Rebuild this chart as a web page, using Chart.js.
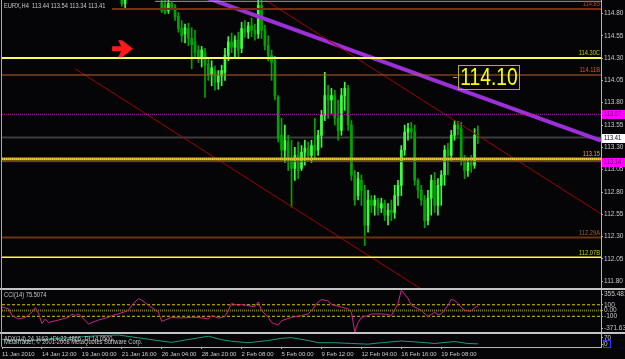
<!DOCTYPE html>
<html>
<head>
<meta charset="utf-8">
<script src="https://cdn.jsdelivr.net/npm/chart.js@4.4.1/dist/chart.umd.min.js"></script>
<style>
  body { margin: 0; background: #050508; width: 625px; height: 359px; overflow: hidden; position: relative; }
  canvas { position: absolute; left: 0; }
  #cMain { top: 0; }
  #cCci { top: 290px; }
  #cAdx { top: 334px; }
  .sep { position: absolute; left: 0; width: 625px; height: 2px; background: #c4c4c4; }
  .edge { position: absolute; left: 1px; top: 0; width: 1px; height: 347px; background: #a8a8a8; }
</style>
</head>
<body>
<canvas id="cMain" width="625" height="288"></canvas>
<div class="sep" style="top:288px"></div>
<canvas id="cCci" width="625" height="42"></canvas>
<div class="sep" style="top:332px"></div>
<canvas id="cAdx" width="625" height="25"></canvas>
<div class="edge"></div>
<script>
// ---- datos: EURX H4, una barra por indice ----
const firstBar = 36;
const opens = [115.02, 114.91, null, null, null, null, null, null, null, null, null, null,
  114.92, 114.90, 114.83, 114.91, 114.87, 114.77, 114.63, 114.57, 114.63, 114.52, 114.48, 114.39,
  114.31, 114.36, 114.23, 114.12, 114.16, 114.03, 114.10, 114.14, 114.33, 114.48, 114.42, 114.50,
  114.41, 114.63, 114.59, 114.66, 114.61, 114.57, 114.89, 114.61, 114.44, 114.33, 114.27, 113.86,
  113.435, 113.27, 113.36, 113.155, 113.065, 113.21, 113.065, 113.245, 113.29, 113.21, 113.32, 113.27,
  113.435, 113.66, 113.88, 113.83, 113.88, 113.625, 113.49, 113.88, 113.96, 113.55, 112.99, 112.76,
  112.93, 112.82, 112.43, 112.71, 112.65, 112.71, 112.62, 112.67, 112.54, 112.595, 112.57, 112.76,
  112.875, 113.27, 113.47, 113.51, 113.47, 112.93, 112.82, 112.71, 112.48, 112.73, 112.93, 112.65,
  112.875, 112.99, 113.27, 113.21, 113.435, 113.55, 113.51, 113.155, 113.04, 113.13, 113.10, 113.44];
const highs = [115.05, 115.04, null, null, null, null, null, null, null, null, null, null,
  115.00, 114.95, 114.95, 114.93, 114.90, 114.81, 114.72, 114.68, 114.69, 114.64, 114.61, 114.44,
  114.43, 114.41, 114.30, 114.27, 114.21, 114.16, 114.22, 114.41, 114.54, 114.58, 114.55, 114.59,
  114.70, 114.72, 114.70, 114.75, 114.68, 115.05, 115.02, 114.67, 114.55, 114.39, 114.32, 113.88,
  113.625, 113.55, 113.435, 113.38, 113.30, 113.36, 113.32, 113.38, 113.36, 113.38, 113.625, 113.49,
  113.715, 114.14, 113.995, 113.96, 113.94, 113.83, 113.96, 114.03, 113.995, 113.60, 113.04, 113.02,
  112.99, 112.875, 112.82, 112.76, 112.76, 112.73, 112.73, 112.71, 112.67, 112.71, 112.875, 112.93,
  113.32, 113.55, 113.57, 113.58, 113.55, 112.95, 112.875, 112.76, 112.82, 112.99, 113.02, 112.95,
  113.04, 113.32, 113.345, 113.49, 113.60, 113.59, 113.58, 113.21, 113.18, 113.21, 113.51, 113.54];
const lows = [114.88, 114.86, null, null, null, null, null, null, null, null, null, null,
  114.81, 114.79, 114.80, 114.85, 114.72, 114.59, 114.48, 114.47, 114.44, 114.18, 114.31, 114.25,
  114.20, 113.86, 114.05, 113.99, 113.94, 113.95, 113.99, 114.05, 114.27, 114.36, 114.30, 114.31,
  114.36, 114.53, 114.52, 114.54, 114.50, 114.52, 114.52, 114.39, 114.27, 114.05, 113.83, 113.36,
  113.155, 113.13, 113.04, 112.63, 112.93, 112.95, 113.04, 113.10, 113.155, 113.13, 113.18, 113.21,
  113.30, 113.60, 113.625, 113.68, 113.55, 113.38, 113.435, 113.715, 113.49, 112.93, 112.65, 112.71,
  112.65, 112.20, 112.35, 112.57, 112.54, 112.54, 112.57, 112.48, 112.43, 112.48, 112.505, 112.65,
  112.76, 113.21, 113.38, 113.40, 112.875, 112.73, 112.65, 112.40, 112.43, 112.54, 112.57, 112.54,
  112.65, 112.875, 112.99, 113.155, 113.38, 113.435, 113.10, 112.95, 112.975, 113.02, 113.065, 113.34];
const closes = [114.91, 114.95, null, null, null, null, null, null, null, null, null, null,
  114.83, 114.81, 114.91, 114.87, 114.76, 114.63, 114.55, 114.64, 114.52, 114.45, 114.36, 114.30,
  114.39, 114.22, 114.11, 114.19, 114.03, 114.10, 114.16, 114.33, 114.48, 114.42, 114.50, 114.39,
  114.63, 114.59, 114.66, 114.61, 114.57, 114.89, 114.61, 114.44, 114.33, 114.25, 113.88, 113.40,
  113.27, 113.38, 113.155, 113.065, 113.21, 113.04, 113.245, 113.29, 113.21, 113.32, 113.27, 113.435,
  113.66, 113.88, 113.83, 113.88, 113.625, 113.49, 113.88, 113.96, 113.55, 112.99, 112.71, 112.95,
  112.82, 112.43, 112.71, 112.65, 112.71, 112.62, 112.67, 112.54, 112.595, 112.57, 112.76, 112.875,
  113.27, 113.47, 113.51, 113.47, 112.93, 112.82, 112.71, 112.48, 112.73, 112.93, 112.65, 112.875,
  112.99, 113.27, 113.21, 113.435, 113.55, 113.51, 113.155, 113.04, 113.13, 113.10, 113.435, 113.41];

// niveles horizontales y sus etiquetas
const levelPrices = [114.935, 114.85, 114.30, 114.11, 113.67, 113.41, 113.17, 113.14, 112.29, 112.07];
const levelTags = ["", "114.85", "114.30C", "114.11B", "", "", "113.15", "", "112.29A", "112.07B"];
const levelFrom = [46, 33, 0, 0, 0, 0, 0, 0, 0, 0];

// lineas de tendencia: [barra, precio] inicio y fin
const trendPurple = [[60, 114.995], [180, 113.375]];
const trendRedUp = [[79, 114.951], [180, 112.555]];
const trendRedLow = [[21.9, 114.181], [130, 111.617]];

const priceTicks = [114.80, 114.55, 114.30, 114.05, 113.80, 113.55, 113.30, 113.05, 112.80, 112.55, 112.30, 112.05, 111.80];
const axisBoxes = [113.67, 113.41, 113.14];

// CCI(14)
const cciBars = [0, 2, 3, 5, 7, 9, 10, 11, 12, 13, 14, 17, 20, 21, 22, 23, 26, 27, 29, 32, 33, 35, 38, 39, 41, 42, 44, 47,
  48, 49, 51, 54, 57, 59, 62, 63, 65, 67, 69, 71, 72, 75, 76, 77, 78, 80, 81, 83, 84, 87, 90, 92, 93, 95, 96, 98, 99,
  102, 104, 105, 106, 107, 108, 110, 111, 114, 116, 117, 119, 120, 122, 123, 126, 128, 130, 131, 132, 134, 135, 136,
  137, 139, 141, 142, 143];
const cciValues = [59, 31, -88, -146, -118, -29, 49, -58, -224, -146, -207, -164, -118, -58, -88, -58, -235, -207, -164,
  -118, -88, -58, 1, 90, 208, 178, 90, -29, -189, -164, -118, -129, -118, -118, -146, -88, -129, -106, 120, 90, 107, 72,
  72, 148, 1, -118, -207, -253, -176, -118, -88, -58, 1, 148, 191, 166, 107, 59, 31, -29, -371.6, -207, -118, -88, -58,
  -58, -70, -88, 120, 355, 208, 90, 1, -106, -29, -70, -58, 90, 191, 178, 120, 1, -12, 49, 75.5];
const cciLevels = [100, 0, -100];
const cciTickPos = [284.6, 100, 0, -100, -313];
const cciTickText = ["355.481", "100", "0.00", "-100", "-371.635"];

// ADX(14)
const adxBars = [0, 8, 29, 35, 49, 51, 62, 66, 69, 74, 80, 84, 87, 92, 95, 100, 105, 110, 114, 120, 126, 130, 136, 140, 143];
const adxValues = [58, 50, 87, 92, 42, 36, 83, 56, 44, 33, 50, 67, 72, 50, 33, 33, 27, 22, 33, 46, 36, 27, 42, 27, 24.1];

// eje de tiempo
const timeBars = [0, 12, 24, 36, 48, 60, 72, 84, 96, 108, 120, 132];
const timeLabels = ["11 Jan 2010", "14 Jan 12:00", "19 Jan 00:00", "21 Jan 16:00", "26 Jan 04:00", "28 Jan 20:00",
  "2 Feb 08:00", "5 Feb 00:00", "9 Feb 12:00", "12 Feb 04:00", "16 Feb 16:00", "19 Feb 08:00"];

// ---- estilos ----
const FONT = '"Liberation Sans", Arial, sans-serif';
const AXIS_GRAY = "#b4b4b4";
const TEXT_GRAY = "#c8c8c8";
const UP = "#3cff3c";
const DOWN = "#00a400";
const levelColors = ["#9a9a9a", "#7a2c14", "#ffff5a", "#b8602a", "#a020a0", "#3c3c3c", "#d8a400", "#c400c4", "#6a3414", "#ffff40"];
const levelWidths = [1, 2, 2, 1, 1, 2, 3, 1, 2, 1.5];
const levelDash = [[], [], [], [], [1, 1], [], [], [], [], []];
const tagColors = ["", "#b8482a", "#c8c800", "#f05020", "", "", "#f0a800", "", "#a8582c", "#c8d000"];
const BID = 5, GOLD = 6;
const X_MAX = 180;

Chart.defaults.font.family = FONT;
Chart.defaults.font.size = 6.5;
Chart.defaults.color = TEXT_GRAY;

function rightAxis(extra) {
  return Object.assign({
    position: "right",
    afterFit: (s) => { s.width = 24; s.paddingTop = 0; s.paddingBottom = 0; },
    grid: { drawOnChartArea: false, tickLength: 2, color: AXIS_GRAY },
    border: { color: AXIS_GRAY, width: 1 },
  }, extra);
}

const baseOpts = {
  responsive: false,
  animation: false,
  devicePixelRatio: 1,
  events: [],
  plugins: { legend: { display: false }, tooltip: { enabled: false } },
};

// texto estrecho, como el de la terminal
function narrowText(ctx, text, x, y, size, squeeze, align) {
  ctx.save();
  ctx.font = size + "px " + FONT;
  ctx.translate(x, y);
  ctx.scale(squeeze, 1);
  ctx.textAlign = align || "left";
  ctx.fillText(text, 0, 0);
  ctx.restore();
}

// ---- grafico principal ----
const candleWicks = [], candleBodies = [], candleUp = [];
for (let k = 0; k < opens.length; k++) {
  if (opens[k] === null) continue;
  const i = firstBar + k;
  candleWicks.push({ x: i, y: [lows[k], highs[k]] });
  candleBodies.push({ x: i, y: [opens[k], closes[k]] });
  candleUp.push(closes[k] >= opens[k]);
}

const mainSets = [];
levelPrices.forEach((p, k) => {
  mainSets.push({
    type: "line",
    data: [{ x: levelFrom[k], y: p }, { x: X_MAX, y: p }],
    borderColor: levelColors[k],
    borderWidth: levelWidths[k],
    borderDash: levelDash[k],
    pointRadius: 0,
    clip: 0,
    order: k === BID ? 5 : 1,
  });
});
// punteado amarillo sobre la banda dorada
mainSets.push({
  type: "line",
  data: [{ x: 0, y: levelPrices[GOLD] }, { x: X_MAX, y: levelPrices[GOLD] }],
  borderColor: "#fff27a",
  borderWidth: 1,
  borderDash: [1, 1],
  pointRadius: 0,
  clip: 0,
  order: 0,
});
[[trendRedLow, "#a00000", 1], [trendRedUp, "#a00000", 1], [trendPurple, "#9c30d8", 4]].forEach(([pts, c, w]) => {
  mainSets.push({
    type: "line",
    data: pts.map(([x, y]) => ({ x, y })),
    borderColor: c,
    borderWidth: w,
    pointRadius: 0,
    clip: 0,
    order: 1,
  });
});
mainSets.push({
  type: "bar",
  data: candleWicks,
  backgroundColor: (c) => (candleUp[c.dataIndex] ? UP : DOWN),
  barThickness: 1,
  grouped: false,
  order: 3,
});
mainSets.push({
  type: "bar",
  data: candleBodies,
  backgroundColor: (c) => (candleUp[c.dataIndex] ? UP : DOWN),
  barThickness: 2,
  minBarLength: 1,
  grouped: false,
  order: 2,
});

const overlayPlugin = {
  id: "overlay",
  afterDraw(chart) {
    const { ctx, scales: { x, y } } = chart;
    ctx.save();
    // etiquetas de nivel a la derecha
    ctx.textBaseline = "bottom";
    levelTags.forEach((t, k) => {
      if (!t) return;
      ctx.fillStyle = tagColors[k];
      narrowText(ctx, t, x.right - 1, y.getPixelForValue(levelPrices[k]) - 1, 7, 0.82, "right");
    });
    // cajas del eje de precios
    ctx.textBaseline = "middle";
    axisBoxes.forEach((p) => {
      const py = Math.round(y.getPixelForValue(p));
      const white = p === 113.41;
      ctx.fillStyle = white ? "#ffffff" : "#ff00ff";
      ctx.fillRect(x.right + 1, py - 4, 24, 9);
      ctx.fillStyle = white ? "#000000" : "#5a005a";
      narrowText(ctx, p.toFixed(2), x.right + 3, py + 0.5, 7, 0.82);
    });
    // flecha roja
    const ax = x.getPixelForValue(39.4), ay = y.getPixelForValue(114.403);
    const arrow = [[-21, -2.5], [-12, -2.5], [-15, -8.5], [-11, -8.5], [0, 0], [-11, 8.5], [-15, 8.5], [-12, 2.5], [-21, 2.5]];
    ctx.fillStyle = "#ff1a1a";
    ctx.beginPath();
    arrow.forEach(([dx, dy], n) => (n ? ctx.lineTo(ax + dx, ay + dy) : ctx.moveTo(ax + dx, ay + dy)));
    ctx.closePath();
    ctx.fill();
    // etiqueta 114.10
    const bx = Math.round(x.getPixelForValue(137)), by = Math.round(y.getPixelForValue(114.085));
    ctx.strokeStyle = "#b4b400";
    ctx.lineWidth = 1;
    ctx.strokeRect(bx + 0.5, by - 12 + 0.5, 61, 24);
    ctx.beginPath();
    ctx.moveTo(bx - 5, by + 0.5);
    ctx.lineTo(bx - 1, by + 0.5);
    ctx.stroke();
    ctx.fillStyle = "#ffff00";
    ctx.textBaseline = "middle";
    narrowText(ctx, "114.10", bx + 31, by + 1, 24, 0.8, "center");
    // cabecera
    ctx.fillStyle = TEXT_GRAY;
    narrowText(ctx, "EURX,H4  113.44 113.54 113.34 113.41", 4, 6, 7, 0.82);
    ctx.restore();
  },
};

new Chart(document.getElementById("cMain"), {
  type: "bar",
  data: { datasets: mainSets },
  options: Object.assign({}, baseOpts, {
    layout: { padding: { left: 2, right: 0, top: 0, bottom: 0 } },
    scales: {
      x: { type: "linear", min: 0, max: X_MAX, display: false, offset: false },
      y: rightAxis({
        min: 111.725, max: 114.95,
        afterBuildTicks: (s) => { s.ticks = priceTicks.map((v) => ({ value: v })); },
        ticks: { autoSkip: false, padding: 1, color: TEXT_GRAY, callback: (v) => v.toFixed(2) },
      }),
    },
  }),
  plugins: [overlayPlugin],
});

// ---- CCI ----
const cciSets = [{
  data: cciBars.map((b, k) => ({ x: b, y: cciValues[k] })),
  borderColor: "#d0208c",
  borderWidth: 1,
  pointRadius: 0,
  clip: 0,
  order: 0,
}];
cciLevels.forEach((lv) => {
  cciSets.push({
    data: [{ x: 0, y: lv }, { x: X_MAX, y: lv }],
    borderColor: lv === 0 ? "#7a7a00" : "#d8c800",
    borderWidth: lv === 0 ? 2 : 1,
    borderDash: lv === 0 ? [1, 1] : [3, 2],
    pointRadius: 0,
    clip: 0,
    order: 1,
  });
});

new Chart(document.getElementById("cCci"), {
  type: "line",
  data: { datasets: cciSets },
  options: Object.assign({}, baseOpts, {
    layout: { padding: { left: 2 } },
    scales: {
      x: { type: "linear", min: 0, max: X_MAX, display: false },
      y: rightAxis({
        min: -371.635, max: 355.481,
        afterBuildTicks: (s) => { s.ticks = cciTickPos.map((v) => ({ value: v })); },
        ticks: { autoSkip: false, padding: 1, color: TEXT_GRAY, callback: (v, i) => cciTickText[i] },
      }),
    },
  }),
  plugins: [{
    id: "cciTitle",
    afterDraw(chart) {
      const { ctx } = chart;
      ctx.save();
      ctx.fillStyle = TEXT_GRAY;
      ctx.textBaseline = "middle";
      narrowText(ctx, "CCI(14) 75.5074", 4, 5, 7, 0.82);
      ctx.restore();
    },
  }],
});

// ---- ADX + eje de tiempo ----
new Chart(document.getElementById("cAdx"), {
  type: "line",
  data: {
    datasets: [{
      data: adxBars.map((b, k) => ({ x: b, y: adxValues[k] })),
      borderColor: "#1e9a7a",
      borderWidth: 1,
      pointRadius: 0,
      clip: 0,
    }],
  },
  options: Object.assign({}, baseOpts, {
    layout: { padding: { left: 2 } },
    scales: {
      x: {
        type: "linear", min: 0, max: X_MAX,
        afterFit: (s) => { s.height = 12; s.paddingLeft = 0; s.paddingRight = 0; },
        afterBuildTicks: (s) => { s.ticks = timeBars.map((v) => ({ value: v })); },
        grid: { drawOnChartArea: false, tickLength: 2, color: AXIS_GRAY },
        border: { color: AXIS_GRAY },
        ticks: { autoSkip: false, maxRotation: 0, align: "start", padding: 2, color: TEXT_GRAY,
          font: { size: 6 }, callback: (v, i) => timeLabels[i] },
      },
      y: rightAxis({
        min: 0, max: 100,
        afterBuildTicks: (s) => { s.ticks = [{ value: 70 }, { value: 20 }]; },
        ticks: { autoSkip: false, padding: 1, color: TEXT_GRAY, callback: (v) => (v === 70 ? "70" : "0") },
      }),
    },
  }),
  plugins: [{
    id: "adxTitle",
    afterDraw(chart) {
      const { ctx, scales: { y } } = chart;
      ctx.save();
      ctx.fillStyle = TEXT_GRAY;
      ctx.textBaseline = "middle";
      narrowText(ctx, "ADX(14) 24.1163 +DI:22.4866 -DI:14.0500", 4, 5, 7, 0.82);
      narrowText(ctx, "MetaTrader, \u00a9 2001-2008 MetaQuotes Software Corp.", 4, 8, 7, 0.82);
      ctx.strokeStyle = "#2040ff";
      ctx.lineWidth = 1;
      const zy = Math.round(y.getPixelForValue(20));
      ctx.strokeRect(y.left + 2.5, zy - 3.5, 7, 7);
      ctx.restore();
    },
  }],
});
</script>
</body>
</html>
